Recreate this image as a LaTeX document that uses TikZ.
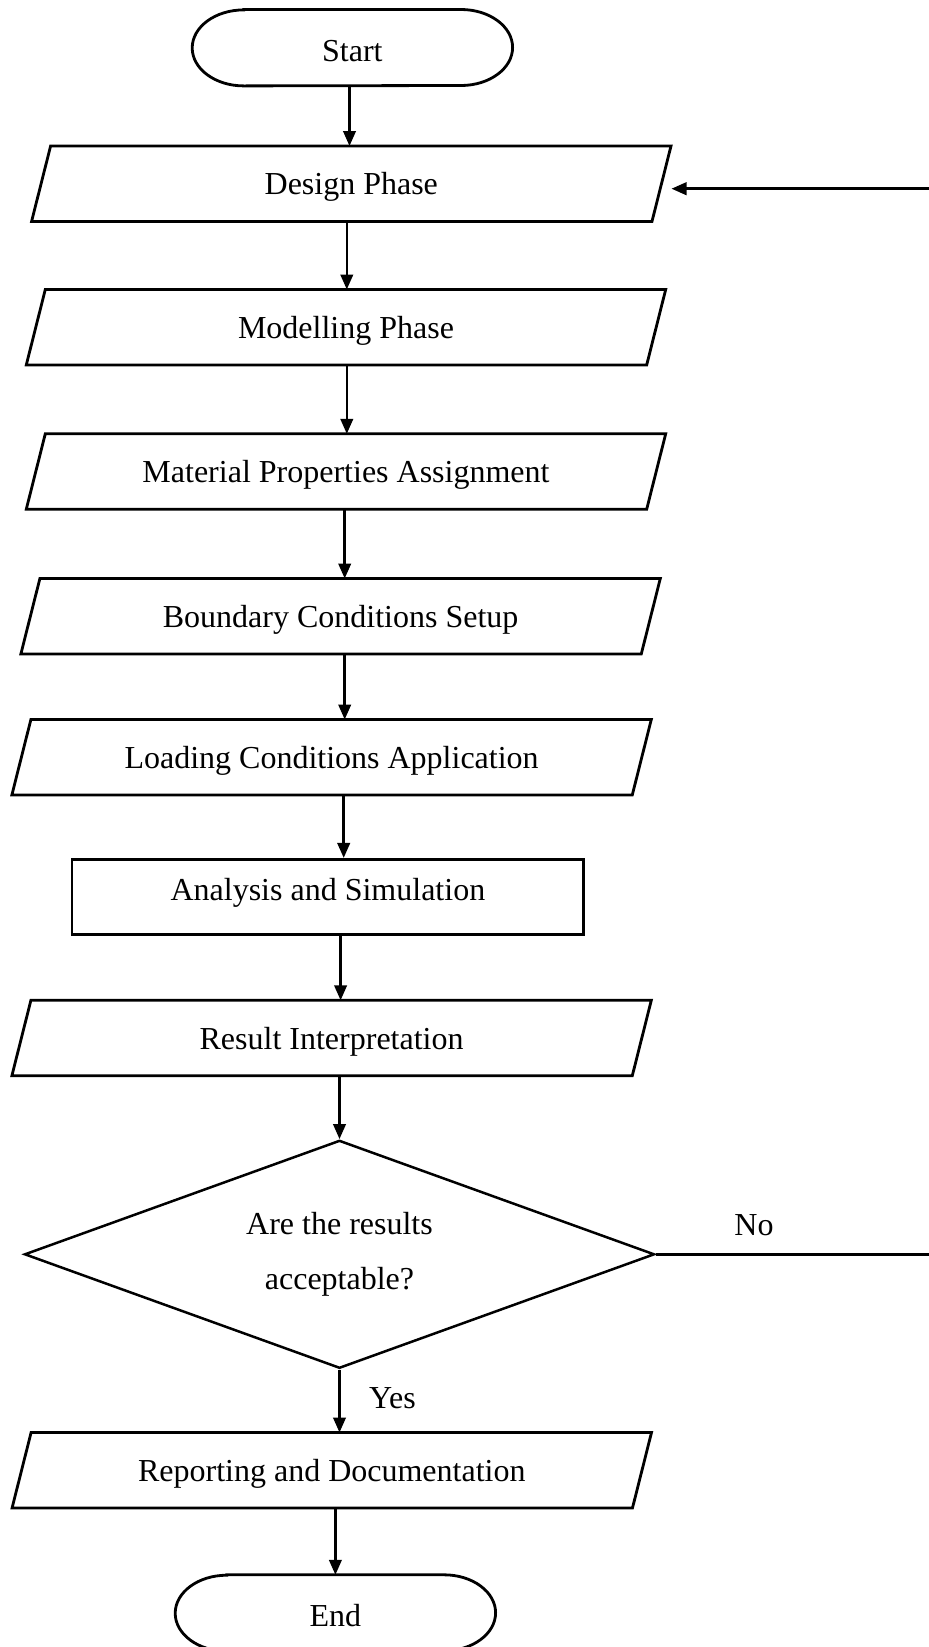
\documentclass[tikz,border=0pt]{standalone}
\usepackage{fontspec}
\setmainfont{Liberation Serif}
\usetikzlibrary{arrows.meta,shapes.geometric}
\begin{document}
\begin{tikzpicture}[x=1pt,y=-1pt,
  shp/.style={line width=2.8pt, line join=miter},
  arr/.style={line width=2.5pt, -{Triangle[length=15pt,width=12.5pt]}},
  txt/.style={font=\fontsize{32}{55}\selectfont, inner sep=0pt, text height=22pt, text depth=0pt},
  term/.style={txt, text height=27pt, minimum width=320pt, minimum height=76pt,
    append after command={\pgfextra{\draw[shp]
      ([xshift=51.5pt]\tikzlastnode.north west) -- ([xshift=-51.5pt]\tikzlastnode.north east)
      arc[start angle=90, end angle=-90, x radius=51.5pt, y radius=38pt]
      -- ([xshift=51.5pt]\tikzlastnode.south west)
      arc[start angle=270, end angle=90, x radius=51.5pt, y radius=38pt] -- cycle;}}},
  io/.style={txt, minimum width=620pt, minimum height=75pt,
    append after command={\pgfextra{\draw[shp]
      ([xshift=9.5pt]\tikzlastnode.north west) -- ([xshift=9.5pt]\tikzlastnode.north east)
      -- ([xshift=-9.5pt]\tikzlastnode.south east) -- ([xshift=-9.5pt]\tikzlastnode.south west) -- cycle;}}},
  proc/.style={txt, text depth=14.6pt, draw, shp, minimum width=511.7pt, minimum height=75pt},
  dia/.style={font=\fontsize{32}{55}\selectfont, inner sep=0pt, align=center, shape=diamond,
    aspect=2.76, draw, line width=2.5pt, minimum width=630pt, minimum height=228pt},
  lbl/.style={txt, text height=21pt}
]
\useasboundingbox (0,0) rectangle (929,1647);

\node[term] (start) at (352.4,47.7) {Start};
\node[io] (design) at (351.3,183.7) {Design Phase};
\node[io] (model) at (346,327.2) {Modelling Phase};
\node[io] (mat) at (346,471.5) {Material Properties Assignment};
\node[io] (bound) at (340.6,616.2) {Boundary Conditions Setup};
\node[io] (load) at (331.6,757.2) {Loading Conditions Application};
\node[proc] (anal) at (327.9,896.8) {Analysis and Simulation};
\node[io] (res) at (331.6,1038) {Result Interpretation};
\node[dia] (dec) at (339.5,1254.3) {Are the results\\acceptable?};
\node[io] (rep) at (331.8,1470.2) {Reporting and Documentation};
\node[term] (stop) at (335.4,1613) {End};

\node[lbl] (no) at (754,1225) {No};
\node[lbl] (yes) at (392.5,1398) {Yes};

\coordinate (a1) at (349.5,0);
\coordinate (a2) at (346.8,0);
\coordinate (a3) at (344.7,0);
\coordinate (a4) at (343.7,0);
\coordinate (a5) at (340.6,0);
\coordinate (loop) at (960,700);

\draw[arr] (start.south -| a1) -- (design.north -| a1);
\draw[arr] (design.south -| a2) -- (model.north -| a2);
\draw[arr] (model.south -| a2) -- (mat.north -| a2);
\draw[arr] (mat.south -| a3) -- (bound.north -| a3);
\draw[arr] (bound.south -| a3) -- (load.north -| a3);
\draw[arr] (load.south -| a4) -- (anal.north -| a4);
\draw[arr] (anal.south -| a5) -- (res.north -| a5);
\draw[arr] (res.south -| dec.north) -- (dec.north);
\draw[arr] (dec.south) -- (dec.south |- rep.north);
\draw[arr] (rep.south -| stop.north) -- (stop.north);
\draw[arr] (dec.east) -- (dec.east -| loop) |- ([xshift=10pt,yshift=-5pt]design.east);
\end{tikzpicture}
\end{document}
